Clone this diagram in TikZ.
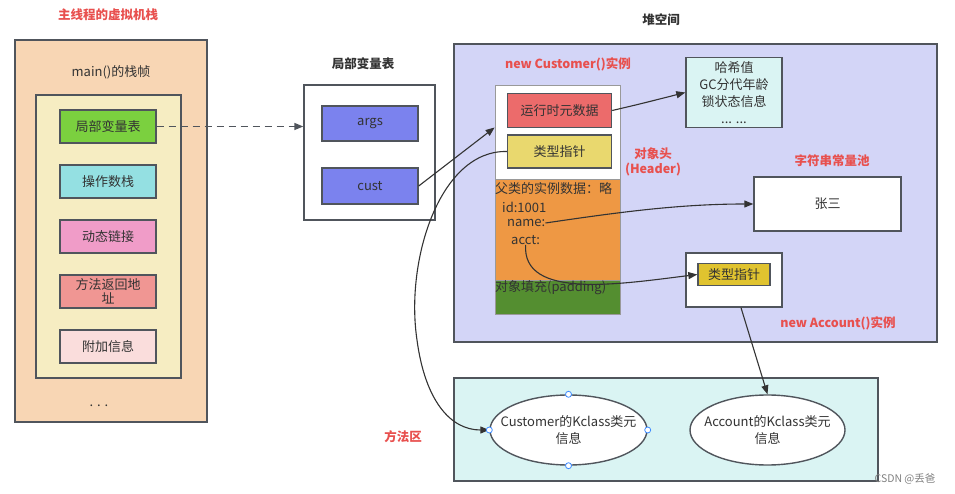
\documentclass[tikz,border=0pt]{standalone}
\usepackage{fontspec}
\setmainfont{Noto Sans CJK SC}
\usetikzlibrary{arrows.meta,shapes.geometric}

\definecolor{edge}{HTML}{50555C}
\definecolor{ink}{HTML}{333333}
\definecolor{hot}{HTML}{E8504E}
\definecolor{peach}{HTML}{F8D6B4}
\definecolor{cream}{HTML}{F6EDC2}
\definecolor{cgreen}{HTML}{7BD03F}
\definecolor{ccyan}{HTML}{94E0E2}
\definecolor{cpink}{HTML}{F09CC8}
\definecolor{csalmon}{HTML}{F09693}
\definecolor{crose}{HTML}{FADDDC}
\definecolor{cblue}{HTML}{7B82EE}
\definecolor{heap}{HTML}{D3D5F7}
\definecolor{cred}{HTML}{EC6B6B}
\definecolor{cyel}{HTML}{E9D86E}
\definecolor{cgold}{HTML}{E0C32F}
\definecolor{corange}{HTML}{EE9844}
\definecolor{cpad}{HTML}{548E30}
\definecolor{aqua}{HTML}{DAF4F3}
\definecolor{handle}{HTML}{3D8BFF}

\tikzset{
  frame/.style={draw=edge, line width=1.4pt, inner sep=0pt},
  slot/.style={frame, minimum width=96, minimum height=33},
  part/.style={draw=gray!80, line width=0.8pt, inner sep=0pt},
  redlbl/.style={text=hot, font=\fontsize{12.5}{16}\selectfont\bfseries, align=center},
  boldlbl/.style={text=ink, font=\fontsize{12.5}{16}\selectfont\bfseries},
  link/.style={draw=ink, line width=1.1pt, -{Triangle[length=9pt,width=7pt]}},
  pip/.style={draw=handle, fill=white, line width=0.8pt, circle, inner sep=0pt, minimum size=6pt}
}

\begin{document}
\begin{tikzpicture}[x=1pt, y=-1pt, every node/.style={text=ink},
  font=\fontsize{13}{17}\selectfont]
\useasboundingbox (0,0) rectangle (955,494);

% Stack of the main thread
\node[redlbl] (ttl) at (108,15) {主线程的虚拟机栈};
\node[frame, fill=peach, minimum width=192, minimum height=382] (stack) at (111,231) {};
\node (frm) at (111,72) {main()的栈帧};
\node[frame, fill=cream, minimum width=145, minimum height=283] (inner) at (108.5,236.5) {};
\node[slot, fill=cgreen] (lvt) at (108,126.5) {局部变量表};
\node[slot, fill=ccyan] (ops) at (108,181.5) {操作数栈};
\node[slot, fill=cpink] (dyn) at (108,236.5) {动态链接};
\node[slot, fill=csalmon, align=center, font=\fontsize{13}{14}\selectfont] (ret) at (108,291.5) {方法返回地\\址};
\node[slot, fill=crose] (ext) at (108,346.5) {附加信息};
\node (dots) at (99,406) {. . .};

% Local variable table
\node[boldlbl] (lvl) at (363,64) {局部变量表};
\node[frame, fill=white, minimum width=131, minimum height=135] (lv) at (369.5,152.5) {};
\node[slot, fill=cblue, minimum height=35] (args) at (370,123.5) {args};
\node[slot, fill=cblue, minimum height=36] (cust) at (370,186) {cust};

% Heap
\node[boldlbl] (hpl) at (661,20) {堆空间};
\node[frame, fill=heap, minimum width=483, minimum height=298] (hp) at (695.5,193) {};
\node[redlbl] (ncl) at (568,64) {new Customer()实例};
\node[part, fill=white, minimum width=125, minimum height=95] (hdr) at (557.5,132.5) {};
\node[part, fill=corange, minimum width=125, minimum height=101] (body) at (557.5,229.5) {};
\node[part, fill=cpad, minimum width=125, minimum height=34] (pad) at (557.5,297) {};
\node[frame, fill=cred, minimum width=104, minimum height=34] (rt) at (559.5,110.5) {运行时元数据};
\node[frame, fill=cyel, minimum width=104, minimum height=33] (tp) at (559.5,151.5) {类型指针};
\node[anchor=west, inner sep=0pt] (sup) at (495,189) {父类的实例数据：略};
\node[anchor=west, inner sep=0pt] (id) at (502,207) {id:1001};
\node[anchor=west, inner sep=0pt] (name) at (507,223) {name:};
\node[anchor=west, inner sep=0pt] (acct) at (511,240) {acct:};
\node[anchor=west, inner sep=0pt] (padl) at (495,288) {对象填充(padding)};
\node[redlbl, font=\fontsize{12.5}{15}\selectfont\bfseries] (hdl) at (653,162) {对象头\\(Header)};
\node[frame, fill=aqua, minimum width=96, minimum height=70, align=center] (hash) at (734,92.5) {哈希值\\GC分代年龄\\锁状态信息\\... ...};
\node[redlbl] (spl) at (832,161) {字符串常量池};
\node[frame, fill=white, minimum width=147, minimum height=54] (zs) at (827.5,204) {张三};
\node[frame, fill=white, minimum width=96, minimum height=54] (acc) at (734,280) {};
\node[frame, fill=cgold, minimum width=72, minimum height=22] (atp) at (734,274.5) {类型指针};
\node[redlbl] (nal) at (838,323) {new Account()实例};

% Method area
\node[redlbl] (mal) at (403,437) {方法区};
\node[frame, fill=aqua, minimum width=424, minimum height=103] (ma) at (666,429.5) {};
\node[frame, ellipse, fill=white, minimum width=157, minimum height=70] (e1) at (568.5,430) {};
\node[align=center] (e1t) at (e1.center) {Customer的Kclass类元\\信息};
\node[frame, ellipse, fill=white, minimum width=155, minimum height=70] (e2) at (767.5,430) {};
\node[align=center] (e2t) at (e2.center) {Account的Kclass类元\\信息};

% Links
\draw[dashed, draw=edge, line width=1.4pt, dash pattern=on 7pt off 5pt, -{Triangle[length=9pt,width=7pt]}] (lvt.east) -- (lv.west |- lvt.east);
\draw[link] (cust.east) -- ([yshift=5pt]hdr.west);
\draw[link] (rt.east) .. controls (640,104) .. (hash.west);
\draw[link] (name.east) .. controls (620,212) and (680,204) .. (zs.west);
\draw[link] (acct.south) .. controls (522,300) and (620,284) .. (atp.west);
\draw[link] (tp.west) .. controls (440,150) and (405,260) .. (417,340) .. controls (425,400) and (450,430) .. (e1.west);
\draw[link] ([xshift=7pt]acc.south) -- (e2.north);
\foreach \a in {north,south,east,west} \node[pip] (h\a) at (e1.\a) {};

% Watermark
\node[text=gray, font=\fontsize{10.5}{12}\selectfont] (wm) at (905,479) {CSDN @丢爸};
\end{tikzpicture}
\end{document}
